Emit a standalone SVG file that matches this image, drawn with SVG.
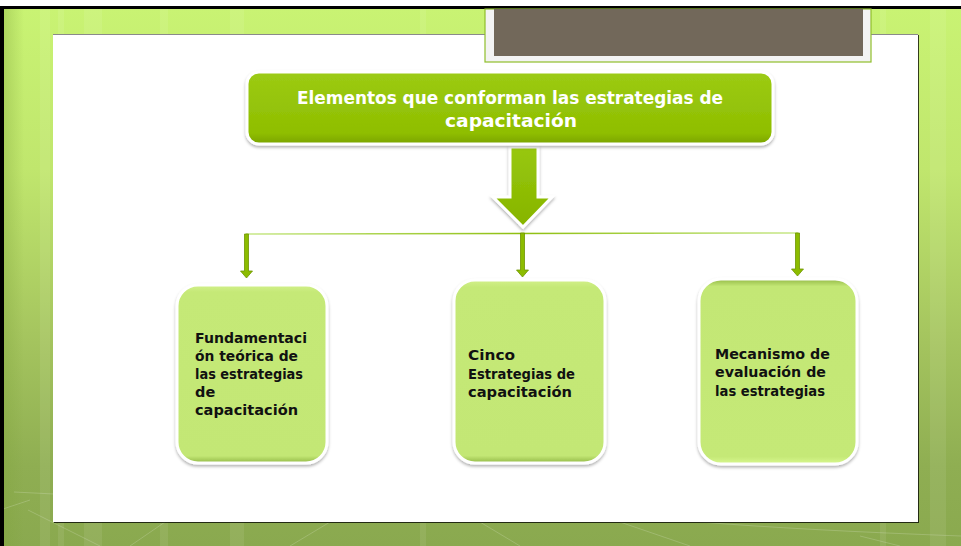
<svg xmlns="http://www.w3.org/2000/svg" width="961" height="546" viewBox="0 0 961 546">
<defs>
<linearGradient id="bg" x1="0" y1="0" x2="0" y2="1">
<stop offset="0" stop-color="#c9f373"/>
<stop offset="0.3" stop-color="#c0e66d"/>
<stop offset="0.6" stop-color="#a6c65f"/>
<stop offset="0.85" stop-color="#8fae52"/>
<stop offset="1" stop-color="#8aa94f"/>
</linearGradient>
<linearGradient id="leftEdge" x1="0" y1="0" x2="1" y2="0">
<stop offset="0" stop-color="#7fa33a" stop-opacity="0.35"/>
<stop offset="1" stop-color="#7fa33a" stop-opacity="0"/>
</linearGradient>
<linearGradient id="titleFill" x1="0" y1="0" x2="0" y2="1">
<stop offset="0" stop-color="#9ccb14"/>
<stop offset="0.85" stop-color="#8fbe00"/>
<stop offset="1" stop-color="#7aa300"/>
</linearGradient>
<linearGradient id="arrowFill" x1="0" y1="0" x2="0" y2="1">
<stop offset="0" stop-color="#98c80c"/>
<stop offset="1" stop-color="#86b400"/>
</linearGradient>
<linearGradient id="boxFill" x1="0" y1="0" x2="0" y2="1">
<stop offset="0" stop-color="#d2f08a"/>
<stop offset="0.04" stop-color="#c5e977"/>
<stop offset="0.96" stop-color="#c3e775"/>
<stop offset="1" stop-color="#92b846"/>
</linearGradient>
<linearGradient id="boxFill3" x1="0" y1="0" x2="0" y2="1">
<stop offset="0" stop-color="#93b947"/>
<stop offset="0.04" stop-color="#c3e775"/>
<stop offset="0.96" stop-color="#c5e977"/>
<stop offset="1" stop-color="#d8f890"/>
</linearGradient>
<linearGradient id="hline" x1="0" y1="0" x2="1" y2="0">
<stop offset="0" stop-color="#c8e88a"/>
<stop offset="0.5" stop-color="#8fbf10"/>
<stop offset="1" stop-color="#c8e88a"/>
</linearGradient>
<filter id="sh" x="-10%" y="-10%" width="120%" height="125%">
<feDropShadow dx="0" dy="2" stdDeviation="1.6" flood-color="#000" flood-opacity="0.3"/>
</filter>
<filter id="panelSh" x="-2%" y="-2%" width="104%" height="104%">
<feDropShadow dx="1" dy="1" stdDeviation="0.6" flood-color="#000" flood-opacity="0.75"/>
</filter>
</defs>
<style>
.box{stroke:#ffffff;stroke-width:3;filter:url(#sh)}
.lbl{font-family:"DejaVu Sans","Liberation Sans",sans-serif;font-weight:bold;font-size:14.5px;fill:#111111}
.ttl{font-family:"DejaVu Sans","Liberation Sans",sans-serif;font-weight:bold;font-size:17.5px;fill:#ffffff;text-anchor:middle}
.vshaft{fill:#8cbc00;stroke:#6f9600;stroke-width:0.8}
.stripe{fill:#ffffff;opacity:0.08}
.deco{stroke:#ffffff;stroke-width:1;opacity:0.18;fill:none}
</style>
<!-- background frame -->
<rect x="0" y="0" width="961" height="546" fill="#ffffff"/>
<rect x="0" y="8" width="961" height="538" fill="url(#bg)"/>
<rect x="4" y="8" width="20" height="538" fill="url(#leftEdge)"/>
<rect class="stripe" x="40" y="9" width="10" height="537"/>
<rect class="stripe" x="58" y="9" width="6" height="537"/>
<rect class="stripe" x="84" y="9" width="18" height="537"/>
<rect class="stripe" x="160" y="9" width="8" height="537"/>
<rect class="stripe" x="230" y="9" width="14" height="537"/>
<rect class="stripe" x="420" y="9" width="6" height="537"/>
<rect class="stripe" x="930" y="9" width="16" height="537"/>
<rect class="stripe" x="880" y="9" width="6" height="537"/>
<path class="deco" d="M14 492 L54 494 M28 510 L100 546 M130 546 L165 522 M330 522 L290 546 M480 522 L520 546 M620 522 L690 546 M700 522 Q800 530 961 536 M860 536 L900 546 M0 510 L30 500"/>
<rect x="0" y="6" width="961" height="3" fill="#000000"/>
<rect x="0" y="6" width="4" height="540" fill="#000000"/>
<!-- white panel -->
<rect x="53" y="34" width="865" height="488" fill="#ffffff" filter="url(#panelSh)"/>
<line x1="53" y1="34.5" x2="918" y2="34.5" stroke="#8a8a8a" stroke-width="1"/>
<!-- title placeholder frame -->
<g id="titleFrame">
<rect x="485" y="9" width="386" height="53" fill="#f3f3f3" stroke="#8fbf2a" stroke-width="1.2"/>
<rect x="494" y="9" width="369" height="47" fill="#72685a"/>
</g>
<!-- connectors -->
<g id="connectors">
<path id="bigArrow" d="M510 147 L538 147 L538 197 L552 197 L523 227 L493 197 L510 197 Z" fill="url(#arrowFill)" stroke="#ffffff" stroke-width="3" stroke-linejoin="miter" filter="url(#sh)"/>
<line x1="246" y1="234" x2="798" y2="233" stroke="url(#hline)" stroke-width="1.6"/>
<path class="vshaft" d="M244.5 234 L248.5 234 L248.5 271 L252.5 271 L246.5 278 L240.5 271 L244.5 271 Z"/>
<path class="vshaft" d="M520.5 233 L524.5 233 L524.5 270 L528.5 270 L522.5 277 L516.5 270 L520.5 270 Z"/>
<path class="vshaft" d="M795.5 233 L799.5 233 L799.5 269 L803.5 269 L797.5 276 L791.5 269 L795.5 269 Z"/>
</g>
<!-- title node -->
<g id="nodeTitle">
<rect class="box" x="247" y="72" width="526" height="72" rx="12" fill="url(#titleFill)"/>
<text class="ttl" x="510" y="104" textLength="426" lengthAdjust="spacingAndGlyphs">Elementos que conforman las estrategias de</text>
<text class="ttl" x="511" y="127" textLength="132" lengthAdjust="spacingAndGlyphs">capacitación</text>
</g>
<!-- node 1 -->
<g id="node1">
<rect class="box" x="177" y="285" width="150" height="178" rx="21" fill="url(#boxFill)"/>
<text class="lbl" x="195" y="343" textLength="112" lengthAdjust="spacingAndGlyphs">Fundamentaci</text>
<text class="lbl" x="195" y="361" textLength="103" lengthAdjust="spacingAndGlyphs">ón teórica de</text>
<text class="lbl" x="195" y="379" textLength="108" lengthAdjust="spacingAndGlyphs">las estrategias</text>
<text class="lbl" x="195" y="397">de</text>
<text class="lbl" x="195" y="415" textLength="103" lengthAdjust="spacingAndGlyphs">capacitación</text>
</g>
<!-- node 2 -->
<g id="node2">
<rect class="box" x="454" y="280" width="151" height="183" rx="21" fill="url(#boxFill)"/>
<text class="lbl" x="468" y="360" textLength="47" lengthAdjust="spacingAndGlyphs">Cinco</text>
<text class="lbl" x="468" y="378.5" textLength="107" lengthAdjust="spacingAndGlyphs">Estrategias de</text>
<text class="lbl" x="468" y="397" textLength="104" lengthAdjust="spacingAndGlyphs">capacitación</text>
</g>
<!-- node 3 -->
<g id="node3">
<rect class="box" x="699" y="279" width="158" height="185" rx="22" fill="url(#boxFill3)"/>
<text class="lbl" x="715" y="359" textLength="115" lengthAdjust="spacingAndGlyphs">Mecanismo de</text>
<text class="lbl" x="715" y="377" textLength="111" lengthAdjust="spacingAndGlyphs">evaluación de</text>
<text class="lbl" x="715" y="396" textLength="110" lengthAdjust="spacingAndGlyphs">las estrategias</text>
</g>
</svg>
